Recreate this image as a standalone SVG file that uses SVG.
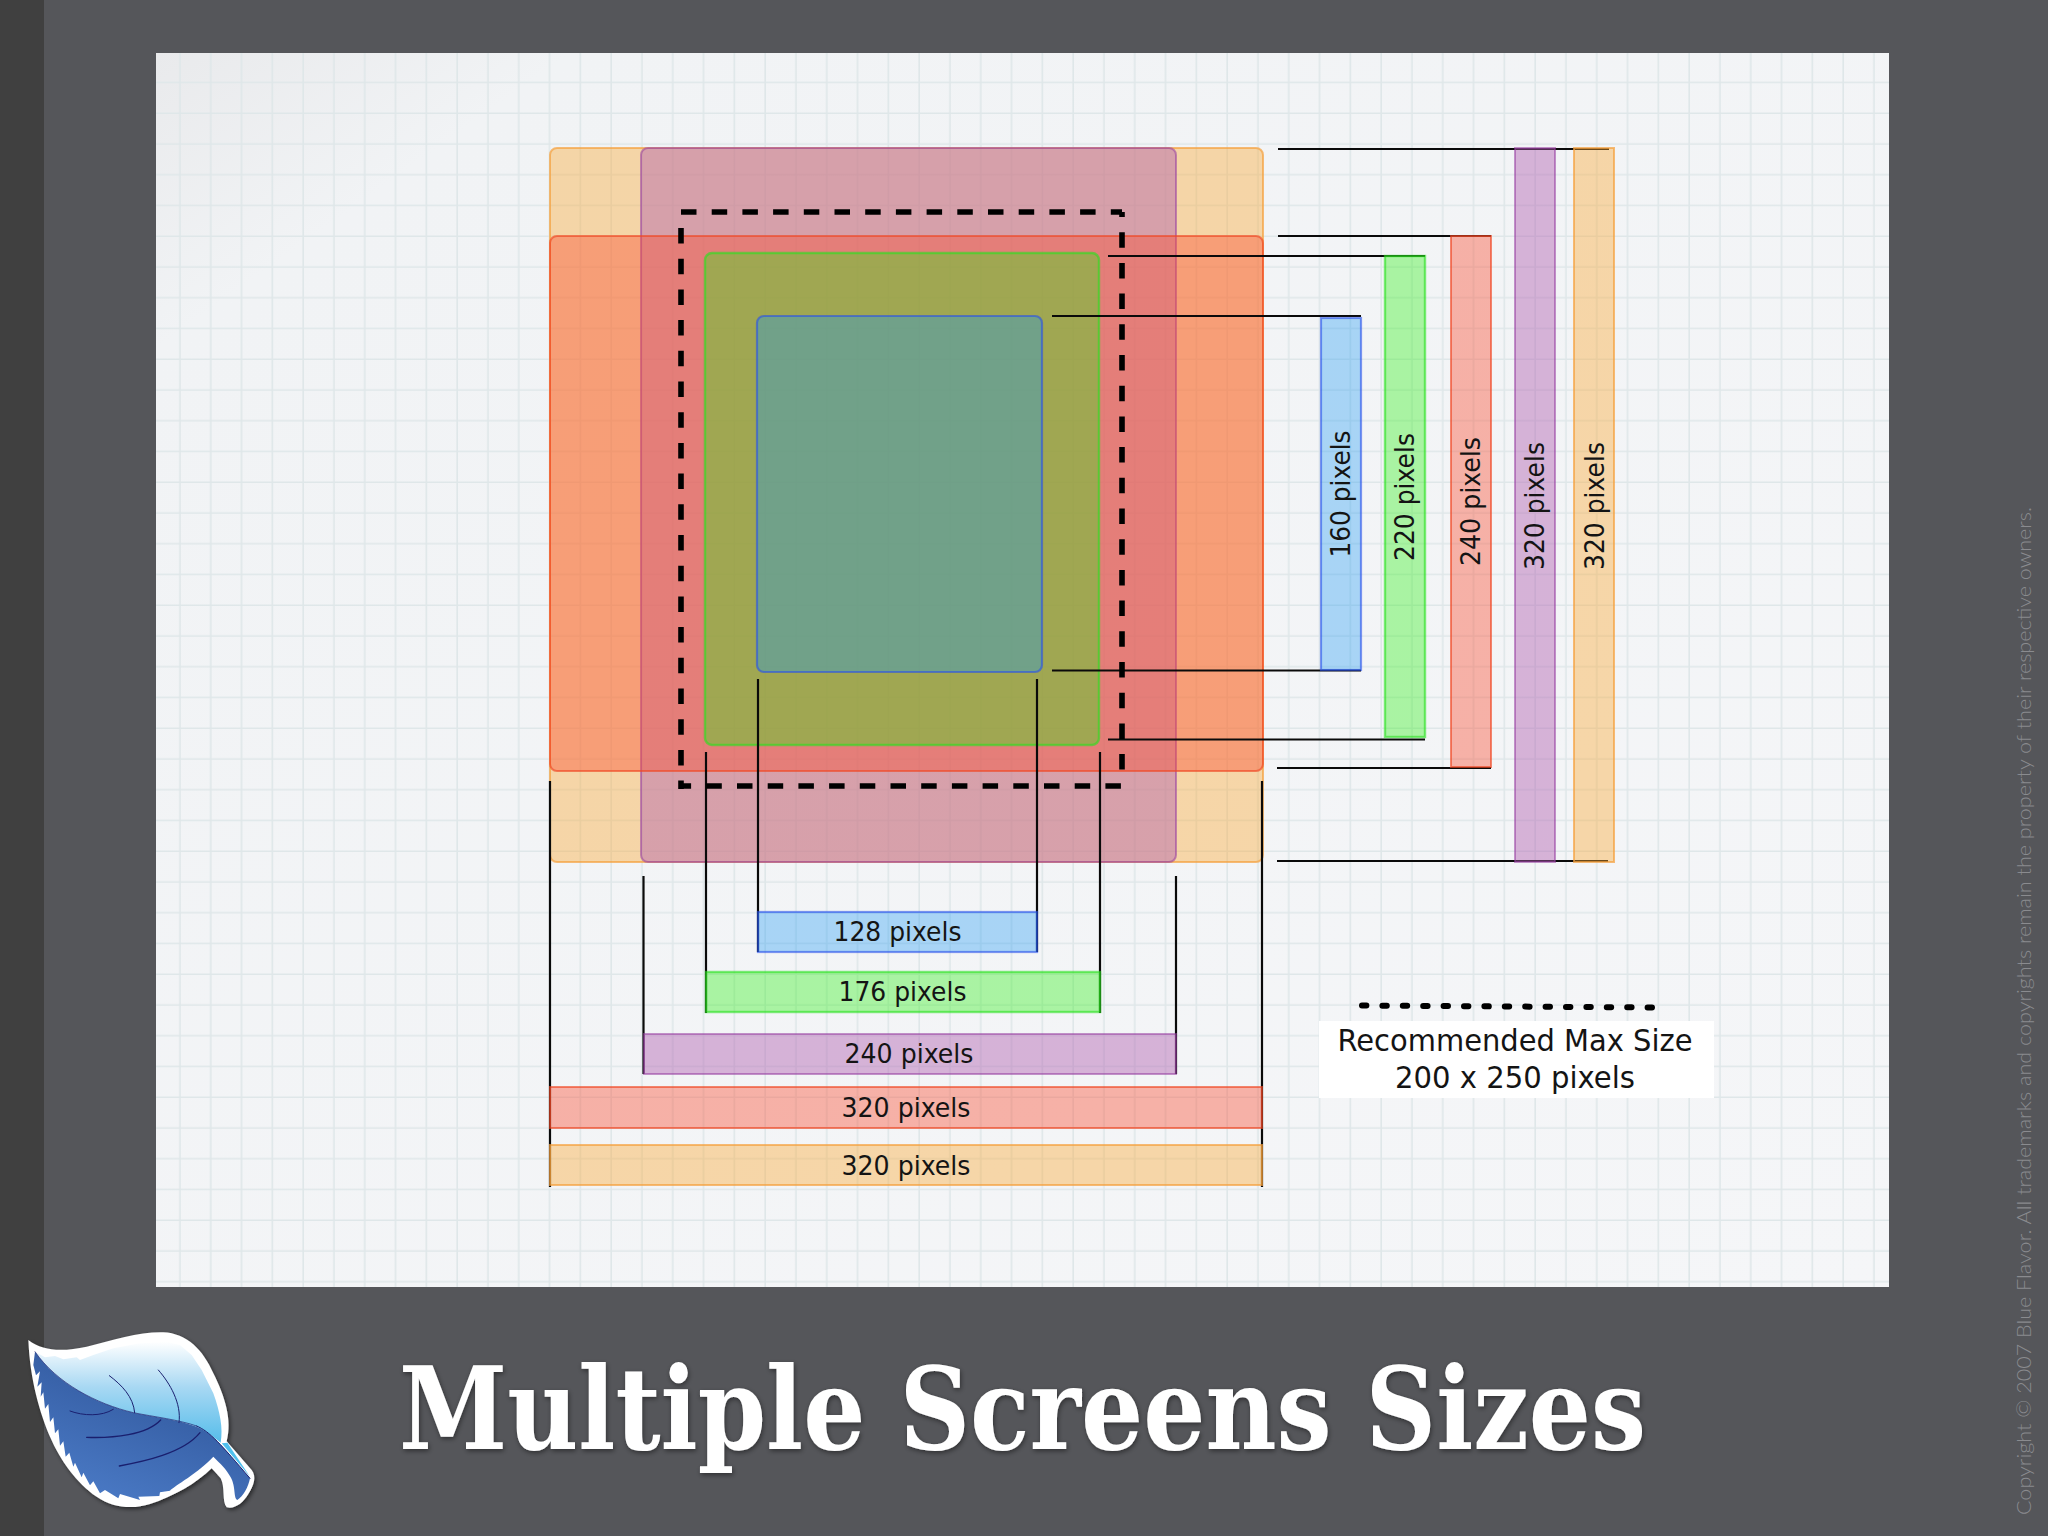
<svg xmlns="http://www.w3.org/2000/svg" width="2048" height="1536" viewBox="0 0 2048 1536">
<style>
.lbl{font-family:"DejaVu Sans",sans-serif;font-size:27px;fill:#141414;text-anchor:middle}
.rec{font-size:30px}
.ln{fill:none;stroke:#0a0a0a;stroke-width:2.2}
.dsh{fill:none;stroke:#000;stroke-width:5.6;stroke-dasharray:15.5 15.2}
.o{fill:rgba(249,168,50,.4);stroke:rgba(245,160,60,.7);stroke-width:2}
.r{fill:rgba(251,76,48,.4);stroke:rgba(240,70,35,.65);stroke-width:2}
.p{fill:rgba(176,94,175,.44);stroke:rgba(150,60,160,.55);stroke-width:2}
.g{fill:rgba(38,241,15,.36);stroke:rgba(40,225,30,.6);stroke-width:2.4}
.b{fill:rgba(23,150,242,.34);stroke:rgba(40,80,235,.6);stroke-width:2.2}
</style>
<defs>
<pattern id="grid" width="30.8" height="30.75" patternUnits="userSpaceOnUse" x="-4" y="-9">
<path d="M30,0V30.75M0,30H30.8" fill="none" stroke="#dfe7e9" stroke-width="1.6"/>
</pattern>
<linearGradient id="paper" x1="0" y1="0" x2="1" y2="1">
<stop offset="0" stop-color="#e9eaec"/><stop offset=".12" stop-color="#f1f3f5"/><stop offset="1" stop-color="#f5f6f8"/>
</linearGradient>
<linearGradient id="leafTop" x1="0" y1="0" x2="0" y2="1">
<stop offset="0" stop-color="#ffffff"/><stop offset=".45" stop-color="#a8d8f3"/><stop offset="1" stop-color="#55bdea"/>
</linearGradient>
<linearGradient id="leafLow" x1="0.7" y1="0.1" x2="0.25" y2="0.9">
<stop offset="0" stop-color="#2f5599"/><stop offset=".55" stop-color="#3d68b0"/><stop offset="1" stop-color="#4877c2"/>
</linearGradient>
<filter id="leafShadow" x="-20%" y="-20%" width="140%" height="140%">
<feDropShadow dx="5" dy="6" stdDeviation="6" flood-color="#000" flood-opacity=".55"/>
</filter>
<filter id="titleShadow" x="-5%" y="-20%" width="110%" height="140%">
<feDropShadow dx="1" dy="2" stdDeviation="2.5" flood-color="#000" flood-opacity=".45"/>
</filter>
</defs>

<rect width="2048" height="1536" fill="#55565a"/>
<rect width="44" height="1536" fill="#404040"/>
<g id="paper-sheet">
<rect x="156" y="53" width="1733" height="1234" fill="url(#paper)"/>
<rect x="156" y="53" width="1733" height="1234" fill="url(#grid)"/>
</g>

<g id="screen-320-tall"><rect class="o" x="550" y="148" width="713" height="714" rx="7"/></g>
<g id="screen-240-320"><rect class="p" x="641" y="148" width="535" height="714" rx="7"/></g>
<g id="screen-320-240"><rect class="r" x="550" y="236" width="713" height="535" rx="7"/></g>
<g id="screen-176-220"><rect class="g" x="705" y="253" width="394" height="492" rx="7"/></g>
<g id="screen-128-160"><rect class="b" x="757" y="316" width="285" height="356" rx="7"/></g>

<g id="connectors">
<path class="ln" d="M1278,149H1609M1278,236H1491M1108,256H1425M1052,316H1361M1052,670.5H1361M1108,739.5H1425M1277,768H1491M1277,861H1608"/>
<path class="ln" d="M550,781V1187M1262,781V1187M643.500,876V1074M1176,876V1074M706,752V1013M1100,752V1013M758,679V952M1037,679V952"/>
</g>

<g id="recommended-area">
<path class="dsh" d="M681,212H1122"/>
<path class="dsh" d="M681,228V789"/>
<path class="dsh" d="M1122,212V772" stroke-dashoffset="10.5"/>
<path class="dsh" d="M681,786H1122" stroke-dashoffset="5.4"/>
</g>

<g id="h-160"><rect class="b" x="1321" y="318" width="40" height="352"/><text class="lbl" transform="translate(1350,494) rotate(-90)" textLength="127" lengthAdjust="spacingAndGlyphs">160 pixels</text></g>
<g id="h-220"><rect class="g" x="1385" y="256" width="40" height="481"/><text class="lbl" transform="translate(1414,497) rotate(-90)" textLength="128" lengthAdjust="spacingAndGlyphs">220 pixels</text></g>
<g id="h-240"><rect class="r" x="1451" y="236" width="40" height="531"/><text class="lbl" transform="translate(1480,501.500) rotate(-90)" textLength="129" lengthAdjust="spacingAndGlyphs">240 pixels</text></g>
<g id="h-320a"><rect class="p" x="1515" y="148" width="40" height="714"/><text class="lbl" transform="translate(1544,506) rotate(-90)" textLength="128" lengthAdjust="spacingAndGlyphs">320 pixels</text></g>
<g id="h-320b"><rect class="o" x="1574" y="148" width="40" height="714"/><text class="lbl" transform="translate(1604,506) rotate(-90)" textLength="128" lengthAdjust="spacingAndGlyphs">320 pixels</text></g>

<g id="w-128"><rect class="b" x="758" y="912" width="279" height="40"/><text class="lbl" x="897.500" y="941" textLength="128" lengthAdjust="spacingAndGlyphs">128 pixels</text></g>
<g id="w-176"><rect class="g" x="706" y="972" width="394" height="40"/><text class="lbl" x="902.500" y="1001" textLength="128" lengthAdjust="spacingAndGlyphs">176 pixels</text></g>
<g id="w-240"><rect class="p" x="644" y="1034" width="532" height="40"/><text class="lbl" x="909" y="1063" textLength="129" lengthAdjust="spacingAndGlyphs">240 pixels</text></g>
<g id="w-320a"><rect class="r" x="550" y="1087" width="712" height="41"/><text class="lbl" x="906" y="1117" textLength="129" lengthAdjust="spacingAndGlyphs">320 pixels</text></g>
<g id="w-320b"><rect class="o" x="550" y="1145" width="712" height="40"/><text class="lbl" x="906" y="1175" textLength="129" lengthAdjust="spacingAndGlyphs">320 pixels</text></g>

<g id="recommended-key">
<path d="M1362,1005.500L1658,1007.500" fill="none" stroke="#000" stroke-width="6" stroke-linecap="round" stroke-dasharray="4.400 16"/>
<rect x="1319" y="1021" width="395" height="77" fill="#fff"/>
<text class="lbl rec" x="1515" y="1051" textLength="355" lengthAdjust="spacingAndGlyphs">Recommended Max Size</text>
<text class="lbl rec" x="1515" y="1088" textLength="240" lengthAdjust="spacingAndGlyphs">200 x 250 pixels</text>
</g>

<g id="leaf" transform="translate(0,1280) scale(.33333)">
<path filter="url(#leafShadow)" fill="#fff" d="M85,180C130,215 190,215 260,200C340,180 420,155 490,157C560,160 610,210 640,280C675,350 697,420 680,484L755,570C770,590 762,615 745,642C730,668 705,688 680,682C665,665 676,620 662,595L635,565C590,610 520,650 450,672C400,688 340,685 290,650C230,610 180,540 150,470C120,400 90,300 85,180Z"/>
<path fill="url(#leafTop)" d="M105,215L135,232L165,228L190,238L230,232L240,240L280,225L340,205L420,190L500,185L540,195L575,225L605,270L640,340C660,395 670,445 662,488C640,470 620,455 590,440C540,420 460,410 400,398C290,372 170,310 105,215Z"/>
<path fill="#4fc0ee" d="M665,490L682,488L750,590Z"/>
<path fill="url(#leafLow)" d="M105,215C170,310 290,372 400,398C460,410 540,420 590,440C625,455 650,480 672,505L750,595C745,620 730,650 712,660C700,655 708,620 692,592C680,568 660,550 640,530C600,575 520,620 510,632L480,637L478,648L415,650L420,660L360,642L355,655L315,630L300,640L280,604L270,616L250,578L245,592L225,548L220,560L208,518L197,530L190,484L180,497L175,448L165,460L160,412L150,426L145,372L135,386L130,337L122,350L125,307L112,320L120,274L108,286L100,255Z"/>
<g fill="none" stroke="#1a1f6e" stroke-linecap="round">
<path stroke-width="3" d="M328,287C365,315 400,350 404,398"/>
<path stroke-width="3" d="M475,270C510,310 545,370 537,428"/>
<path stroke-width="3" d="M210,393C250,408 305,410 340,388"/>
<path stroke-width="4" d="M260,472C340,475 440,465 482,420"/>
<path stroke-width="4" d="M358,558C430,545 550,520 600,458"/>
<path stroke-width="3" d="M590,438C630,455 660,490 750,595"/>
<path stroke-width="2" d="M105,215C170,310 290,372 400,398C460,410 540,420 590,438"/>
</g>
</g>

<text id="title" x="399" y="1449" filter="url(#titleShadow)" font-family="'DejaVu Serif Condensed','DejaVu Serif',serif" font-weight="700" font-size="114" fill="#fff" textLength="1247" lengthAdjust="spacingAndGlyphs">Multiple Screens Sizes</text>

<text id="copyright" transform="translate(2031,1515) rotate(-90)" font-family="Lato,'Open Sans',sans-serif" font-weight="300" font-size="20" fill="#8a8b8f" textLength="1008" lengthAdjust="spacingAndGlyphs">Copyright © 2007 Blue Flavor. All trademarks and copyrights remain the property of their respective owners.</text>
</svg>
